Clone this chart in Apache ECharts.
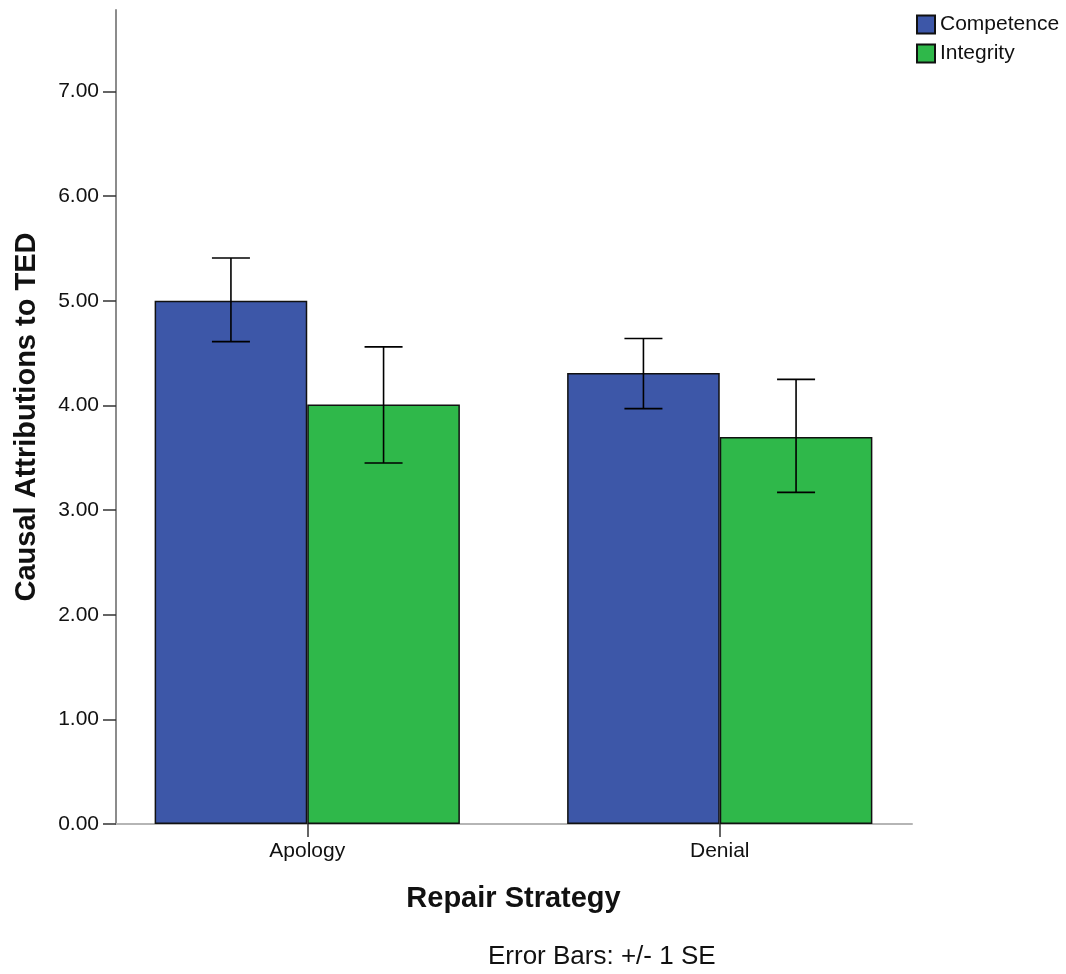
<!DOCTYPE html>
<html>
<head>
<meta charset="utf-8">
<script src="https://cdn.jsdelivr.net/npm/echarts@6/dist/echarts.min.js"></script>
<style>html,body{margin:0;padding:0;background:#fff}#c{width:1066px;height:974px}</style>
</head>
<body>
<div id="c"></div>
<script>
const categories = ['Apology', 'Denial'];
const seriesNames = ['Competence', 'Integrity'];
const competence = [5.00, 4.31];
const integrity = [4.01, 3.70];
const competenceLow = [4.61, 3.97];
const competenceHigh = [5.41, 4.64];
const integrityLow = [3.45, 3.17];
const integrityHigh = [4.56, 4.25];
const yTicks = [0, 1, 2, 3, 4, 5, 6, 7];
const yMax = 7.78;

const colors = ['#3d57a8', '#2fb84a'];
const catGap = 0.26;
const FONT = 'Liberation Sans, Arial, sans-serif';

function errSeries(name, low, high, idx) {
  return {
    type: 'custom',
    name: name + ' SE',
    xAxisIndex: 0, yAxisIndex: 0,
    z: 10,
    silent: true,
    data: categories.map((c, i) => [i, low[i], high[i]]),
    encode: { x: 0, y: [1, 2] },
    renderItem: function (params, api) {
      const band = api.size([1, 0])[0];
      const bw = band * (1 - catGap) / 2;
      const off = (idx === 0 ? -1 : 1) * bw / 2;
      const top = api.coord([api.value(0), api.value(2)]);
      const bot = api.coord([api.value(0), api.value(1)]);
      const x = top[0] + off;
      const cap = 19;
      const st = { stroke: '#000', lineWidth: 1.6 };
      return {
        type: 'group',
        children: [
          { type: 'line', shape: { x1: x, y1: top[1], x2: x, y2: bot[1] }, style: st },
          { type: 'line', shape: { x1: x - cap, y1: top[1], x2: x + cap, y2: top[1] }, style: st },
          { type: 'line', shape: { x1: x - cap, y1: bot[1], x2: x + cap, y2: bot[1] }, style: st }
        ]
      };
    }
  };
}

const chart = echarts.init(document.getElementById('c'), null, { renderer: 'canvas' });
chart.setOption({
  animation: false,
  backgroundColor: '#fff',
  textStyle: { fontFamily: FONT },
  title: {
    text: 'Error Bars: +/- 1 SE',
    left: 488, top: 944,
    padding: 0,
    textStyle: { fontFamily: FONT, fontSize: 26, fontWeight: 'normal', color: '#111' }
  },
  legend: {
    data: seriesNames,
    left: 916, top: 14,
    orient: 'vertical',
    padding: 0,
    itemWidth: 18, itemHeight: 18, itemGap: 8,
    icon: 'rect',
    textStyle: { fontFamily: FONT, fontSize: 21, color: '#111' }
  },
  grid: [
    { left: 101, right: 140, top: 10, bottom: 150, containLabel: false },
    { left: 116, right: 154, top: 10, bottom: 150, containLabel: false }
  ],
  xAxis: [
    {
      type: 'category', gridIndex: 0, data: categories,
      axisLine: { show: false },
      axisTick: { show: true, alignWithLabel: true, length: 13, lineStyle: { color: '#333', width: 1.5 } },
      axisLabel: { fontFamily: FONT, fontSize: 21, color: '#111', margin: 17 },
      name: 'Repair Strategy', nameLocation: 'middle', nameGap: 60,
      nameTextStyle: { fontFamily: FONT, fontSize: 29, fontWeight: 'bold', color: '#111' }
    },
    {
      type: 'value', gridIndex: 1, min: 0, max: 1,
      axisLine: { show: true, lineStyle: { color: '#b5b5b5', width: 2 } },
      axisTick: { show: false }, axisLabel: { show: false }, splitLine: { show: false }
    }
  ],
  yAxis: [
    { type: 'value', gridIndex: 0, min: 0, max: yMax, show: false, splitLine: { show: false } },
    {
      type: 'value', gridIndex: 1, min: 0, max: yMax,
      axisLine: { show: true, lineStyle: { color: '#8c8c8c', width: 2 } },
      axisTick: { show: true, length: 13, customValues: yTicks, lineStyle: { color: '#333', width: 1.5 } },
      axisLabel: { fontFamily: FONT, fontSize: 21, color: '#111', margin: 17, customValues: yTicks,
        formatter: v => v.toFixed(2) },
      splitLine: { show: false },
      name: 'Causal Attributions to TED', nameLocation: 'middle', nameGap: 75,
      nameTextStyle: { fontFamily: FONT, fontSize: 29, fontWeight: 'bold', color: '#111' }
    }
  ],
  series: [
    {
      type: 'bar', name: seriesNames[0], data: competence,
      xAxisIndex: 0, yAxisIndex: 0,
      barGap: 0, barCategoryGap: (catGap * 100) + '%',
      itemStyle: { color: colors[0], borderColor: '#111', borderWidth: 1.5 }
    },
    {
      type: 'bar', name: seriesNames[1], data: integrity,
      xAxisIndex: 0, yAxisIndex: 0,
      barGap: 0, barCategoryGap: (catGap * 100) + '%',
      itemStyle: { color: colors[1], borderColor: '#111', borderWidth: 1.5 }
    },
    errSeries(seriesNames[0], competenceLow, competenceHigh, 0),
    errSeries(seriesNames[1], integrityLow, integrityHigh, 1)
  ]
});
</script>
</body>
</html>
